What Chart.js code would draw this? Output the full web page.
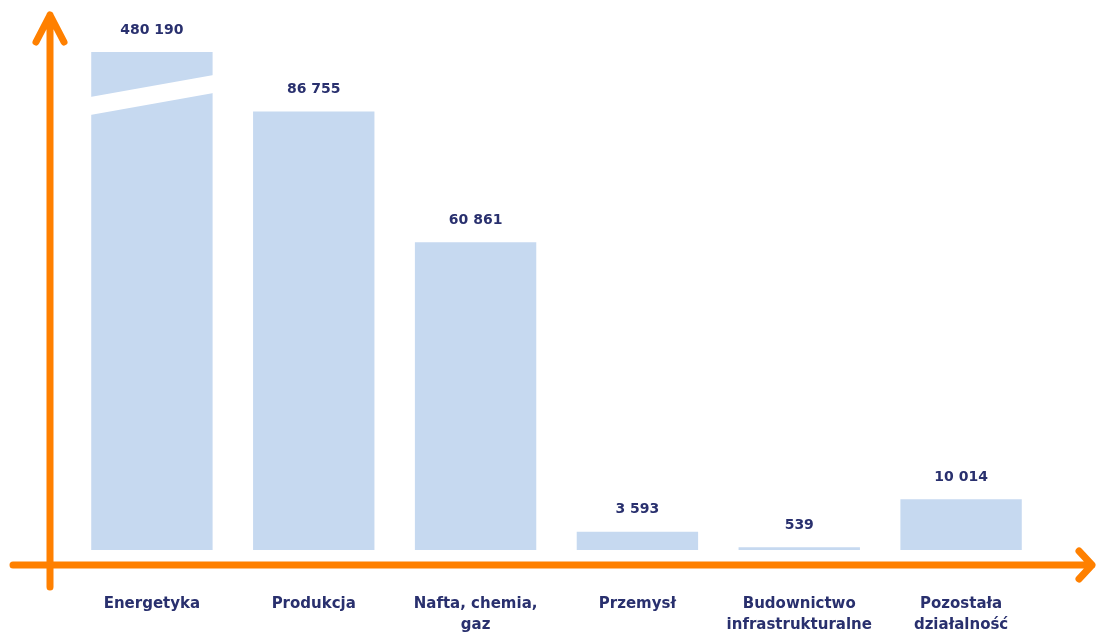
<!DOCTYPE html>
<html lang="pl">
<head>
<meta charset="utf-8">
<script src="https://cdn.jsdelivr.net/npm/chart.js@4"></script>
<style>
  html, body { margin: 0; padding: 0; background: #ffffff; }
  #wrap { width: 1099px; height: 633px; }
</style>
</head>
<body>
<div id="wrap"><canvas id="grafico" width="1099" height="633"></canvas></div>
<script>
const kategorie = [
    'Energetyka',
    'Produkcja',
    ['Nafta, chemia,', 'gaz'],
    'Przemysł',
    ['Budownictwo', 'infrastrukturalne'],
    ['Pozostała', 'działalność']
];
const wartosci = [480190, 86755, 60861, 3593, 539, 10014];
const osMax = 98500;   // pierwszy słupek jest ucięty (przerwany)

const kolorSlupka = '#c6d9f0';
const kolorTekstu = '#29306e';
const kolorOsi = '#ff8000';

function formatuj(n) {
    return String(n).replace(/\B(?=(\d{3})+(?!\d))/g, ' ');
}

// podpisy wartości nad słupkami + przerwa w pierwszym słupku
const podpisy = {
    id: 'podpisy',
    afterDatasetsDraw(chart) {
        const ctx = chart.ctx;
        const area = chart.chartArea;
        const meta = chart.getDatasetMeta(0);

        // przerwa (biały pasek) na pierwszym słupku
        const b0 = meta.data[0];
        const l = b0.x - b0.width / 2 - 1;
        const r = b0.x + b0.width / 2 + 1;
        ctx.save();
        ctx.fillStyle = '#ffffff';
        ctx.beginPath();
        ctx.moveTo(l, area.top + 45);
        ctx.lineTo(r, area.top + 23);
        ctx.lineTo(r, area.top + 41);
        ctx.lineTo(l, area.top + 63);
        ctx.closePath();
        ctx.fill();

        ctx.fillStyle = kolorTekstu;
        ctx.font = 'bold 14px "DejaVu Sans"';
        ctx.textAlign = 'center';
        ctx.textBaseline = 'middle';
        meta.data.forEach((bar, i) => {
            const y = Math.max(bar.y, area.top);
            ctx.fillText(formatuj(wartosci[i]), bar.x, y - 22);
        });
        ctx.restore();
    }
};

// pomarańczowe osie ze strzałkami
const osie = {
    id: 'osie',
    afterDraw(chart) {
        const ctx = chart.ctx;
        const area = chart.chartArea;
        const ox = area.left - 21;
        const oy = area.bottom + 15;
        ctx.save();
        ctx.strokeStyle = kolorOsi;
        ctx.lineWidth = 7;
        ctx.lineCap = 'round';
        ctx.lineJoin = 'round';

        ctx.beginPath();
        ctx.moveTo(ox, oy + 22);
        ctx.lineTo(ox, 15);
        ctx.moveTo(ox - 14, 42);
        ctx.lineTo(ox, 15);
        ctx.lineTo(ox + 14, 42);
        ctx.stroke();

        ctx.beginPath();
        ctx.moveTo(13, oy);
        ctx.lineTo(1092, oy);
        ctx.moveTo(1079, oy - 14);
        ctx.lineTo(1092, oy);
        ctx.lineTo(1079, oy + 14);
        ctx.stroke();
        ctx.restore();
    }
};

new Chart(document.getElementById('grafico'), {
    type: 'bar',
    data: {
        labels: kategorie,
        datasets: [{
            data: wartosci,
            backgroundColor: kolorSlupka,
            borderWidth: 0,
            categoryPercentage: 0.75,
            barPercentage: 1
        }]
    },
    options: {
        responsive: false,
        animation: false,
        layout: {
            padding: { left: 71, right: 57, top: 52, bottom: 0 }
        },
        plugins: {
            legend: { display: false },
            tooltip: { enabled: false }
        },
        scales: {
            x: {
                grid: { display: false, drawTicks: false },
                border: { display: false },
                afterFit(scale) { scale.height = 83; },
                ticks: {
                    color: kolorTekstu,
                    font: { size: 15, weight: 'bold', family: 'DejaVu Sans', lineHeight: 1.4 },
                    padding: 44,
                    maxRotation: 0,
                    autoSkip: false
                }
            },
            y: {
                display: false,
                min: 0,
                max: osMax
            }
        }
    },
    plugins: [podpisy, osie]
});
</script>
</body>
</html>
